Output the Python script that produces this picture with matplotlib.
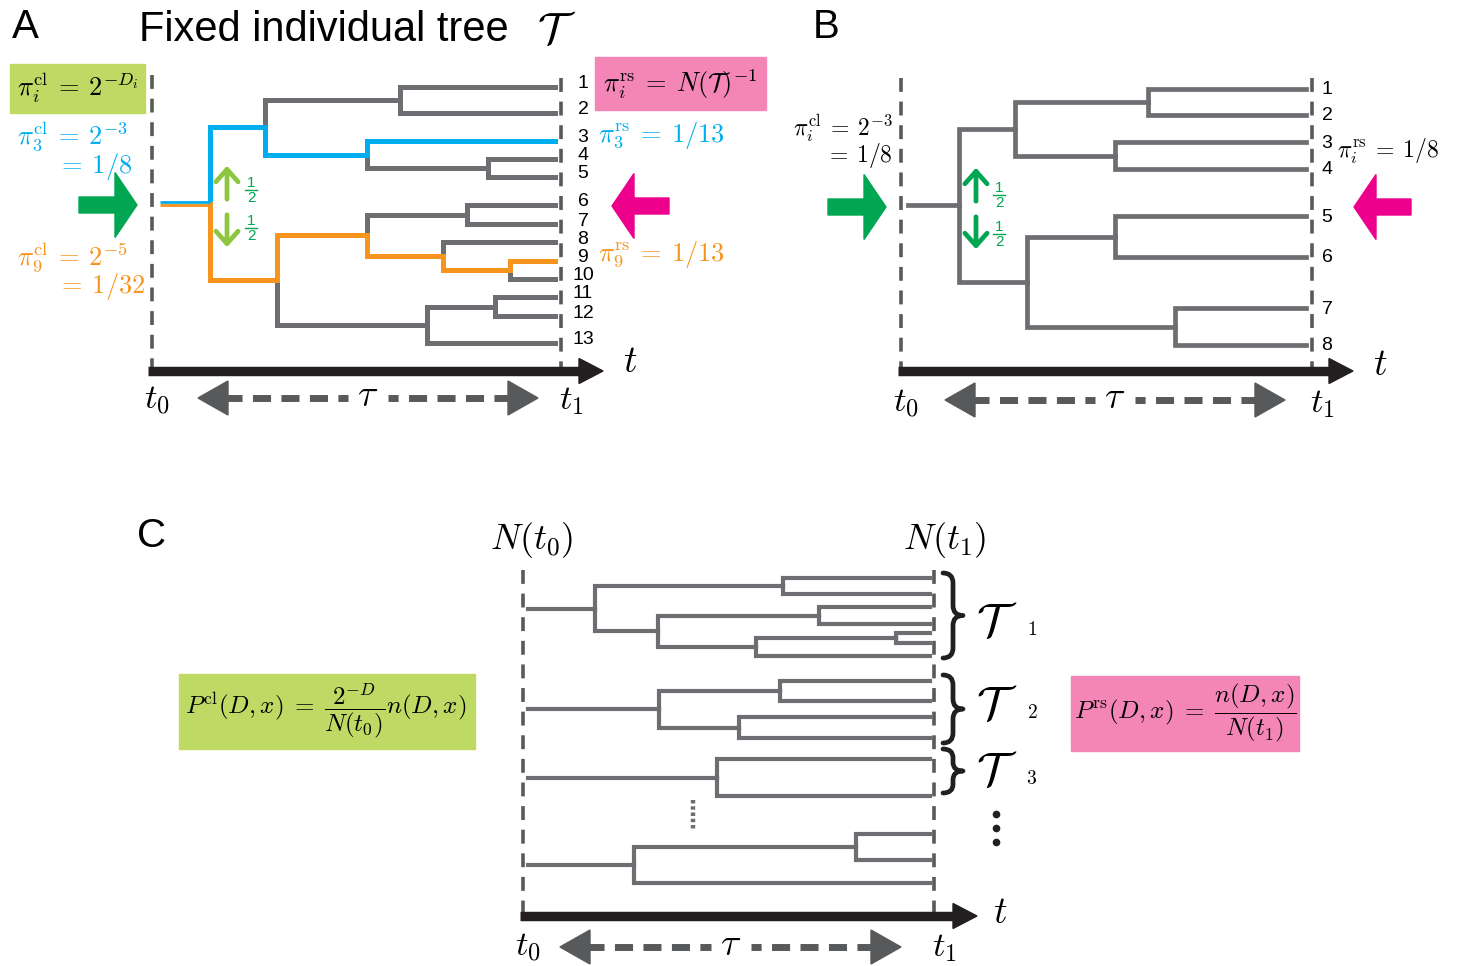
import matplotlib.pyplot as plt
from matplotlib.patches import Polygon, Rectangle, PathPatch
from matplotlib.path import Path

plt.rcParams['font.family'] = ['Liberation Sans', 'DejaVu Sans']
plt.rcParams['mathtext.fontset'] = 'cm'
plt.rcParams['lines.scale_dashes'] = False

GRAY = '#6d6e71'
DASH = '#58595b'
INK = '#231f20'
BLUE = '#00aeef'
ORANGE = '#f7941d'
GREEN = '#00a651'
LIGHT_GREEN = '#8dc63f'
MAGENTA = '#ec008c'
BOX_GREEN = '#bed964'
BOX_PINK = '#f386b6'

# trees: internal node = (split time, upper child, lower child), leaf = label
tree_a = (210, (265, (400, 1, 2), (367, 3, (488, 4, 5))),
          (277, (367, (467, 6, 7), (443, 8, (510, 9, 10))),
           (427, (495, 11, 12), 13)))
leaf_y_a = [87, 113, 141, 159, 177, 205, 224, 242, 261, 279, 297, 316, 343]
highlight_a = {3: BLUE, 9: ORANGE}

tree_b = (959, (1015, (1148, 1, 2), (1115, 3, 4)),
          (1027, (1115, 5, 6), (1175, 7, 8)))
leaf_y_b = [89, 115, 142, 169, 216, 257, 308, 345]

tree_c1 = (595, (783, 1, 2), (658, (819, 3, 4), (756, (896, 5, 6), 7)))
leaf_y_c1 = [578, 594, 607, 624, 633, 643, 656]
tree_c2 = (659, (780, 1, 2), (739, 3, 4))
leaf_y_c2 = [681, 701, 717, 738]
tree_c3 = (717, 1, 2)
leaf_y_c3 = [759, 796]
tree_c4 = (634, (856, 1, 2), 3)
leaf_y_c4 = [834, 860, 883]

EQ = r'\:=\:'
EQ_C = r'\;=\;'


def build(node, leaf_y, t_end, edges):
    if isinstance(node, int):
        return leaf_y[node - 1], t_end, {node}
    t, upper, lower = node
    kids = [build(c, leaf_y, t_end, edges) for c in (upper, lower)]
    y = (kids[0][0] + kids[1][0]) / 2
    for yc, tc, leaves in kids:
        edges.append((t, y, tc, yc, leaves))
    return y, t, kids[0][2] | kids[1][2]


def draw_tree(ax, tree, leaf_y, t_stem, t_end, lw, highlight=None):
    highlight = highlight or {}
    edges = []
    y_root, t_root, _ = build(tree, leaf_y, t_end, edges)
    for t, y, tc, yc, leaves in edges:
        col, z = GRAY, 2
        for leaf, c in highlight.items():
            if leaf in leaves:
                col, z = c, 3
        ax.plot([t, t, tc], [y, yc, yc], color=col, lw=lw, zorder=z,
                solid_joinstyle='miter', solid_capstyle='projecting')
    if highlight:
        cols = list(highlight.values())
        for k, c in enumerate(cols):
            off = (k - (len(cols) - 1) / 2) * 2.6
            ax.plot([t_stem, t_root], [y_root + off] * 2, color=c,
                    lw=lw / len(cols) + 0.2, zorder=3, solid_capstyle='butt')
    else:
        ax.plot([t_stem, t_root], [y_root] * 2, color=GRAY, lw=lw,
                solid_capstyle='projecting', zorder=2)


def time_frame(ax, x0, x1, y_top0, y_top1, y_axis, x_ax0, x_tip, y_tau,
               tau_l, tau_r, t_lab, lab_y):
    for x, yt in ((x0, y_top0), (x1, y_top1)):
        ax.plot([x, x], [yt, y_axis - 3], color=DASH, lw=2.6,
                ls=(0, (10, 7)), zorder=1)
    ax.plot([x_ax0, x_tip - 22], [y_axis, y_axis], color=INK, lw=6.8,
            solid_capstyle='butt', zorder=4)
    ax.add_patch(Polygon([(x_tip - 24, y_axis - 12.5), (x_tip, y_axis),
                          (x_tip - 24, y_axis + 12.5)], color=INK, zorder=4))
    mid = (tau_l + tau_r) / 2
    ax.plot([tau_l + 26, mid - 20], [y_tau, y_tau], color=DASH, lw=5,
            ls=(0, (13, 7.5)), solid_capstyle='butt')
    ax.plot([tau_r - 26, mid + 20], [y_tau, y_tau], color=DASH, lw=5,
            ls=(0, (13, 7.5)), solid_capstyle='butt')
    ax.add_patch(Polygon([(tau_l, y_tau), (tau_l + 30, y_tau - 17),
                          (tau_l + 30, y_tau + 17)], color=DASH))
    ax.add_patch(Polygon([(tau_r, y_tau), (tau_r - 30, y_tau - 17),
                          (tau_r - 30, y_tau + 17)], color=DASH))
    ax.text(mid, y_tau - 2, r'$\tau$', fontsize=27, ha='center', va='center')
    ax.text(x0 + 5, lab_y, r'$t_0$', fontsize=25, ha='center', va='center')
    ax.text(x1 + 10, lab_y, r'$t_1$', fontsize=25, ha='center', va='center')
    ax.text(t_lab[0], t_lab[1], r'$t$', fontsize=27, ha='center', va='center')


def block_arrow(ax, x_tail, x_tip, y, color, shaft=16, head=65, head_len=22):
    s = 1 if x_tip > x_tail else -1
    xb = x_tip - s * head_len
    pts = [(x_tail, y - shaft / 2), (xb, y - shaft / 2), (xb, y - head / 2),
           (x_tip, y), (xb, y + head / 2), (xb, y + shaft / 2),
           (x_tail, y + shaft / 2)]
    ax.add_patch(Polygon(pts, color=color, zorder=4))


def half_arrows(ax, x, y_mid, color, lab_color, lab_x, lab_ys):
    for y0, y1 in ((y_mid - 3, y_mid - 42), (y_mid + 7, y_mid + 45)):
        ax.annotate('', xy=(x, y1), xytext=(x, y0),
                    arrowprops=dict(arrowstyle='->,head_length=0.45,head_width=0.4',
                                    color=color, lw=3.4, mutation_scale=20))
    for yl in lab_ys:
        ax.text(lab_x, yl - 7, '1', fontsize=11, color=lab_color,
                ha='center', va='center')
        ax.plot([lab_x - 6, lab_x + 6], [yl, yl], color=lab_color, lw=1.0)
        ax.text(lab_x, yl + 8, '2', fontsize=11, color=lab_color,
                ha='center', va='center')


def brace(ax, x0, y_top, y_bot, w=20, lw=3.4):
    xm, x1 = x0 + w / 2, x0 + w
    ym = (y_top + y_bot) / 2
    r = min(w / 2, (y_bot - y_top) / 5)
    verts = [(x0, y_top), (xm, y_top), (xm, y_top + r), (xm, ym - r),
             (xm, ym), (x1, ym), (xm, ym), (xm, ym + r), (xm, y_bot - r),
             (xm, y_bot), (x0, y_bot)]
    codes = [Path.MOVETO, Path.CURVE3, Path.CURVE3, Path.LINETO,
             Path.CURVE3, Path.CURVE3, Path.CURVE3, Path.CURVE3, Path.LINETO,
             Path.CURVE3, Path.CURVE3]
    ax.add_patch(PathPatch(Path(verts, codes), fill=False, edgecolor=INK,
                           lw=lw, capstyle='round', joinstyle='round'))


fig = plt.figure(figsize=(14.61, 9.66), dpi=100)
ax = fig.add_axes([0, 0, 1, 1])
ax.set_xlim(0, 1461)
ax.set_ylim(966, 0)
ax.axis('off')

# ---------------- panel A ----------------
ax.text(12, 27, 'A', fontsize=29, va='center', ha='left')
ax.text(139, 30, 'Fixed individual tree', fontsize=30, va='center', ha='left')
ax.text(557, 32, r'$\mathcal{T}$', fontsize=32, va='center', ha='center')
time_frame(ax, 152, 561, 75, 78, 371, 148, 603, 398, 198, 538, (630, 362), 400)
draw_tree(ax, tree_a, leaf_y_a, 160, 555, 3.6, highlight_a)
for i, y in enumerate(leaf_y_a, start=1):
    ax.text(583, y - 3, str(i), fontsize=14, ha='center', va='center')

ax.add_patch(Rectangle((10, 64), 135, 49, color=BOX_GREEN, zorder=0))
ax.text(78, 88, r'$\pi_i^{\mathrm{cl}}' + EQ + r'2^{-D_i}$', fontsize=19,
        ha='center', va='center')
ax.text(17, 136, r'$\pi_3^{\mathrm{cl}}' + EQ + r'2^{-3}$', fontsize=19,
        color=BLUE, ha='left', va='center')
ax.text(57, 166, r'$=\:1/8$', fontsize=19, color=BLUE, ha='left', va='center')
ax.text(17, 257, r'$\pi_9^{\mathrm{cl}}' + EQ + r'2^{-5}$', fontsize=19,
        color=ORANGE, ha='left', va='center')
ax.text(57, 287, r'$=\:1/32$', fontsize=19, color=ORANGE, ha='left',
        va='center')

ax.add_patch(Rectangle((595, 57), 171, 53, color=BOX_PINK, zorder=0))
ax.text(680, 84, r'$\pi_i^{\mathrm{rs}}' + EQ + r'N(\mathcal{T})^{-1}$',
        fontsize=19, ha='center', va='center')
ax.text(598, 136, r'$\pi_3^{\mathrm{rs}}' + EQ + r'1/13$', fontsize=19,
        color=BLUE, ha='left', va='center')
ax.text(598, 255, r'$\pi_9^{\mathrm{rs}}' + EQ + r'1/13$', fontsize=19,
        color=ORANGE, ha='left', va='center')

block_arrow(ax, 79, 137, 205, GREEN)
block_arrow(ax, 669, 612, 206, MAGENTA)
half_arrows(ax, 227, 205, LIGHT_GREEN, GREEN, 251, (190, 228))

# ---------------- panel B ----------------
ax.text(813, 27, 'B', fontsize=29, va='center', ha='left')
time_frame(ax, 901, 1312, 78, 78, 371, 898, 1353, 400, 945, 1285,
           (1380, 365), 403)
draw_tree(ax, tree_b, leaf_y_b, 908, 1306, 3.4)
for i, y in enumerate(leaf_y_b, start=1):
    ax.text(1327, y + 1, str(i), fontsize=14, ha='center', va='center')
ax.text(893, 128, r'$\pi_i^{\mathrm{cl}}' + EQ + r'2^{-3}$', fontsize=17,
        ha='right', va='center')
ax.text(893, 156, r'$=\:1/8$', fontsize=17, ha='right', va='center')
ax.text(1337, 151, r'$\pi_i^{\mathrm{rs}}' + EQ + r'1/8$', fontsize=17,
        ha='left', va='center')
block_arrow(ax, 828, 886, 207, GREEN)
block_arrow(ax, 1411, 1354, 207, MAGENTA)
half_arrows(ax, 976, 207, GREEN, GREEN, 999, (195, 234))

# ---------------- panel C ----------------
ax.text(137, 536, 'C', fontsize=29, va='center', ha='left')
time_frame(ax, 523, 934, 570, 570, 916, 520, 977, 947, 560, 901,
           (1000, 913), 948)
ax.text(532, 540, r'$N(t_0)$', fontsize=26, ha='center', va='center')
ax.text(945, 540, r'$N(t_1)$', fontsize=26, ha='center', va='center')
for tree, ly in ((tree_c1, leaf_y_c1), (tree_c2, leaf_y_c2),
                 (tree_c3, leaf_y_c3), (tree_c4, leaf_y_c4)):
    draw_tree(ax, tree, ly, 528, 930, 3.0)
ax.plot([693, 693], [800, 831], color=GRAY, lw=3.2, ls=(0, (2.5, 2)))

for (yt, yb), yc, k in (((573, 658), 624, 1), ((675, 743), 707, 2),
                        ((749, 793), 773, 3)):
    brace(ax, 943, yt, yb)
    ax.text(997, yc, r'$\mathcal{T}$', fontsize=34, ha='center', va='center')
    ax.text(1032, yc + 6, '$%d$' % k, fontsize=14, ha='center', va='center')
ax.plot([996] * 3, [814, 828, 842], 'o', ms=4.5, color=INK)

ax.add_patch(Rectangle((179, 674), 296, 75, color=BOX_GREEN, zorder=0))
ax.text(326, 711, r'$P^{\mathrm{cl}}(D,x)' + EQ_C +
        r'\dfrac{2^{-D}}{N(t_0)}n(D,x)$',
        fontsize=18, ha='center', va='center')
ax.add_patch(Rectangle((1071, 676), 228, 75, color=BOX_PINK, zorder=0))
ax.text(1185, 713, r'$P^{\mathrm{rs}}(D,x)' + EQ_C +
        r'\dfrac{n(D,x)}{N(t_1)}$',
        fontsize=18, ha='center', va='center')

fig.savefig('out.png', dpi=100)
